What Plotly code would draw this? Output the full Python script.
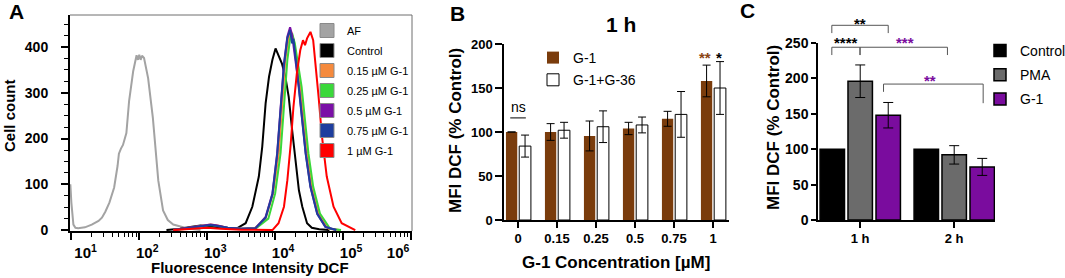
import plotly.graph_objects as go

W, H = 1065, 278
FONT = "Liberation Sans, Arial, Helvetica, sans-serif"
NB = "\u00a0"

# ---------------- Panel A : DCF fluorescence histograms ----------------
# x values are log10(fluorescence intensity), y values are cell counts
af_log   = [0.985, 1.0, 1.03, 1.06, 1.1, 1.2, 1.3, 1.4, 1.45, 1.5, 1.56, 1.63, 1.68, 1.70, 1.73, 1.76,
            1.81, 1.85, 1.91, 1.94, 1.96, 1.98, 2.0, 2.02, 2.04, 2.07, 2.13, 2.2, 2.28, 2.35, 2.42,
            2.5, 2.6, 2.7, 2.8, 2.9]
af_count = [100, 60, 12, 5, 4, 6, 12, 20, 27, 40, 60, 93, 140, 167, 178, 186,
            212, 282, 347, 373, 382, 372, 383, 372, 381, 376, 332, 245, 108, 43, 22,
            12, 8, 4, 2, 0]

ctrl_log   = [2.4, 2.6, 2.75, 2.9, 3.0, 3.15, 3.3, 3.45, 3.566, 3.664, 3.76, 3.81, 3.86, 3.91, 3.96,
              4.006, 4.054, 4.10, 4.15, 4.20, 4.25, 4.30, 4.35, 4.40, 4.47, 4.54, 4.65, 4.8]
ctrl_count = [0, 3, 7, 10, 9, 6, 4, 5, 15, 51, 117, 182, 277, 335, 372,
              397, 382, 364, 335, 291, 219, 146, 87, 51, 15, 5, 2, 0]

g015_log   = [2.5, 2.7, 2.85, 3.0, 3.05, 3.15, 3.3, 3.5, 3.7, 3.86, 3.97, 4.054, 4.10, 4.15, 4.2,
              4.24, 4.28, 4.33, 4.37, 4.42, 4.47, 4.54, 4.64, 4.79, 4.95]
g015_count = [0, 4, 8, 11, 12, 10, 5, 3, 4, 25, 80, 168, 277, 372, 420,
              433, 410, 360, 313, 240, 168, 95, 36, 3, 0]

g025_log   = [2.5, 2.7, 2.85, 3.0, 3.05, 3.15, 3.3, 3.5, 3.72, 3.9, 4.0, 4.08, 4.13, 4.18, 4.22,
              4.25, 4.29, 4.34, 4.39, 4.44, 4.49, 4.56, 4.66, 4.81, 4.97]
g025_count = [0, 3, 7, 10, 11, 9, 5, 3, 4, 25, 80, 168, 277, 372, 418,
              430, 408, 358, 313, 240, 168, 95, 36, 3, 0]

g05_log   = [2.5, 2.7, 2.85, 3.0, 3.05, 3.15, 3.3, 3.5, 3.71, 3.86, 3.96, 4.03, 4.08, 4.13, 4.18,
             4.22, 4.25, 4.30, 4.35, 4.40, 4.45, 4.52, 4.62, 4.74, 4.9]
g05_count = [0, 4, 8, 11, 12, 10, 5, 3, 4, 29, 80, 168, 277, 364, 423,
             443, 426, 372, 313, 240, 168, 95, 36, 7, 0]

g075_log   = [2.5, 2.7, 2.85, 3.0, 3.05, 3.15, 3.3, 3.5, 3.71, 3.86, 3.96, 4.03, 4.08, 4.13, 4.18,
              4.22, 4.25, 4.27, 4.31, 4.35, 4.40, 4.45, 4.52, 4.62, 4.74, 4.9]
g075_count = [0, 4, 8, 10, 11, 9, 5, 3, 4, 27, 78, 165, 272, 360, 420,
              437, 408, 418, 365, 310, 238, 166, 94, 35, 7, 0]

g1_log   = [2.5, 2.75, 3.0, 3.2, 3.5, 3.96, 4.05, 4.13, 4.18, 4.23, 4.27, 4.32, 4.37, 4.41, 4.44,
            4.47, 4.52, 4.56, 4.59, 4.64, 4.69, 4.76, 4.86, 4.98, 5.18]
g1_count = [0, 3, 5, 3, 1, 0, 15, 51, 109, 189, 270, 343, 393, 415, 404,
            419, 433, 415, 372, 291, 204, 117, 51, 15, 0]

a_names  = ["AF", "Control", "0.15 µM G-1", "0.25 µM G-1", "0.5 µM G-1", "0.75 µM G-1", "1 µM G-1"]
a_colors = ["#A3A3A3", "#000000", "#F58A3D", "#3AD83A", "#7A10A6", "#1E3E9E", "#FF0000"]
a_xticks = [10, 100, 1000, 10000, 100000, 1000000]
a_xticktext = [NB * 3 + "10<sup>1</sup>", "10<sup>2</sup>", "10<sup>3</sup>", "10<sup>4</sup>",
               "10<sup>5</sup>", "10<sup>6</sup>" + NB * 10]
a_yticks = [0, 100, 200, 300, 400]

# ---------------- Panel B : MFI at 1 h vs G-1 concentration ----------------
b_conc = ["0", "0.15", "0.25", "0.5", "0.75", "1"]
b_g1 = [100, 100, 95.5, 104, 115, 158]
b_g1_err = [None, 9.5, 17, 7, 8.5, 18]
b_g1g36 = [84, 102, 106, 108, 120, 150]
b_g1g36_err = [12.5, 9, 18, 9, 26, 30]
b_yticks = [0, 50, 100, 150, 200]

# ---------------- Panel C : MFI Control / PMA / G-1 at 1 h and 2 h ----------------
c_time = ["1 h", "2 h"]
c_control = [100, 100]
c_pma = [196, 92]
c_pma_err = [23, 13]
c_g1 = [148, 75]
c_g1_err = [18, 12]
c_yticks = [0, 50, 100, 150, 200, 250]

BROWN = "#7A3C0C"
PURPLE = "#7A0C9E"
PMA_GREY = "#6B6B6B"


def fx(px):
    return px / W


def fy(py):
    return 1 - py / H


C_Y_DOMAIN = [fy(220), fy(43)]
C_Y_RANGE = [0, 250]


def c_paper_y(v):
    # map a panel-C data value to paper coordinates (so marks above the axis top are not clipped)
    d0, d1 = C_Y_DOMAIN
    r0, r1 = C_Y_RANGE
    return d0 + (v - r0) / (r1 - r0) * (d1 - d0)


fig = go.Figure()

# ---- Panel A traces
a_logs = [af_log, ctrl_log, g015_log, g025_log, g05_log, g075_log, g1_log]
a_counts = [af_count, ctrl_count, g015_count, g025_count, g05_count, g075_count, g1_count]
for name, lx, cnt, col in zip(a_names, a_logs, a_counts, a_colors):
    fig.add_trace(go.Scatter(
        x=[10 ** v for v in lx], y=cnt, mode="lines", name=name,
        line=dict(color=col, width=2), showlegend=False, xaxis="x", yaxis="y"))
for i, (name, col) in enumerate(zip(a_names, a_colors)):
    fig.add_trace(go.Scatter(
        x=[None], y=[None], mode="markers", name=name, legend="legend",
        legendgroup="a%d" % i,
        marker=dict(symbol="square", size=14, color=col, line=dict(color="#8a8a8a", width=1)),
        xaxis="x", yaxis="y"))

# ---- Panel B traces
fig.add_trace(go.Bar(
    x=b_conc, y=b_g1, name="G-1", legend="legend2", legendgroup="b1",
    marker=dict(color=BROWN, line=dict(color=BROWN, width=0)),
    offset=-0.31, width=0.29,
    error_y=dict(type="data", array=b_g1_err, visible=True, color="black", thickness=1, width=4),
    xaxis="x2", yaxis="y2"))
fig.add_trace(go.Bar(
    x=b_conc, y=b_g1g36, name="G-1+G-36", legend="legend2", legendgroup="b2",
    marker=dict(color="white", line=dict(color="black", width=1)),
    offset=0.03, width=0.30,
    error_y=dict(type="data", array=b_g1g36_err, visible=True, color="black", thickness=1, width=4),
    xaxis="x2", yaxis="y2"))

# ---- Panel C traces
fig.add_trace(go.Bar(
    x=c_time, y=c_control, name="Control", legend="legend3", legendgroup="c1",
    marker=dict(color="black", line=dict(color="black", width=1.5)),
    offset=-0.425, width=0.26, xaxis="x3", yaxis="y3"))
fig.add_trace(go.Bar(
    x=c_time, y=c_pma, name="PMA", legend="legend3", legendgroup="c2",
    marker=dict(color=PMA_GREY, line=dict(color="black", width=1.5)),
    offset=-0.128, width=0.26,
    error_y=dict(type="data", array=c_pma_err, visible=True, color="black", thickness=1, width=5),
    xaxis="x3", yaxis="y3"))
fig.add_trace(go.Bar(
    x=c_time, y=c_g1, name="G-1", legend="legend3", legendgroup="c3",
    marker=dict(color=PURPLE, line=dict(color="black", width=1.5)),
    offset=0.17, width=0.26,
    error_y=dict(type="data", array=c_g1_err, visible=True, color="black", thickness=1, width=5),
    xaxis="x3", yaxis="y3"))

shapes = []
annotations = []

# ---- Panel A frame (top & right borders)
shapes.append(dict(type="line", xref="x domain", yref="y domain", x0=0, x1=1, y0=1, y1=1,
                   line=dict(color="#6e6e6e", width=1)))
shapes.append(dict(type="line", xref="x domain", yref="y domain", x0=1, x1=1, y0=0, y1=1,
                   line=dict(color="#6e6e6e", width=1)))

# ---- Panel B significance marks
shapes.append(dict(type="line", xref="x2", yref="y2", x0=-0.2, x1=0.2, y0=116, y1=116,
                   line=dict(color="black", width=1)))
annotations.append(dict(x=0, y=128, xref="x2", yref="y2", text="ns", showarrow=False,
                        font=dict(size=14, color="black", family=FONT)))
annotations.append(dict(x=4.795, y=189, xref="x2", yref="y2", text="**", showarrow=False, yshift=-3.5,
                        font=dict(size=15, color="#8B4513", family=FONT, weight="bold")))
annotations.append(dict(x=5.15, y=189, xref="x2", yref="y2", text="*", showarrow=False, yshift=-3.5,
                        font=dict(size=15, color="black", family=FONT, weight="bold")))

# ---- Panel C brackets: (x_left, x_right, y_top, y_left_end, y_right_end, label, color, label_x, label_y)
c_brackets = [
    (-0.30, 0.30, 275, 264, 264, "**", "black", 0.0, 282),
    (-0.30, 0.00, 244, 233, 233, "****", "black", -0.15, 255),
    (0.00, 0.93, 244, 233, 233, "***", PURPLE, 0.48, 255),
    (0.25, 1.31, 192, 181, 165, "**", PURPLE, 0.745, 202),
]
for xl, xr, yt, yle, yre, lab, col, lx, ly in c_brackets:
    ln = dict(color="#555555", width=1)
    shapes.append(dict(type="line", xref="x3", yref="paper", x0=xl, x1=xr,
                       y0=c_paper_y(yt), y1=c_paper_y(yt), line=ln))
    shapes.append(dict(type="line", xref="x3", yref="paper", x0=xl, x1=xl,
                       y0=c_paper_y(yle), y1=c_paper_y(yt), line=ln))
    shapes.append(dict(type="line", xref="x3", yref="paper", x0=xr, x1=xr,
                       y0=c_paper_y(yre), y1=c_paper_y(yt), line=ln))
    annotations.append(dict(x=lx, y=c_paper_y(ly), xref="x3", yref="paper", text=lab,
                            showarrow=False, yshift=-3.5, yanchor="middle",
                            font=dict(size=15, color=col, family=FONT, weight="bold")))


# ---- Panel letters, titles and axis titles
def paper_text(px, py, text, size, bold=True, angle=0):
    annotations.append(dict(x=fx(px), y=fy(py), xref="paper", yref="paper", text=text,
                            showarrow=False, textangle=angle, xanchor="center", yanchor="middle",
                            font=dict(size=size, color="black", family=FONT,
                                      weight="bold" if bold else "normal")))


paper_text(16, 12, "A", 21)
paper_text(457, 13, "B", 21)
paper_text(747, 11, "C", 21)
paper_text(621, 24, "1 h", 21)
paper_text(9, 116, "Cell count", 15, angle=-90)
paper_text(250, 267, "Fluorescence Intensity DCF", 15)
paper_text(455, 131, "MFI DCF (% Control)", 17, angle=-90)
paper_text(616, 262, "G-1 Concentration [µM]", 17)
paper_text(773, 128, "MFI DCF (% Control)", 17, angle=-90)

tick_bold = dict(family=FONT, size=14, color="black", weight="bold")

fig.update_layout(
    width=W, height=H, autosize=False,
    margin=dict(l=0, r=0, t=0, b=0, pad=0, autoexpand=False),
    paper_bgcolor="white", plot_bgcolor="white",
    font=dict(family=FONT, color="black"),
    barmode="overlay",
    shapes=shapes, annotations=annotations,
    xaxis=dict(domain=[fx(70), fx(412)], anchor="y", type="log", range=[0.98, 6.015],
               tickvals=a_xticks, ticktext=a_xticktext, ticks="outside", ticklen=7, tickwidth=2,
               tickcolor="black", showline=True, linecolor="black", linewidth=2, showgrid=False,
               zeroline=False, tickfont=dict(family=FONT, size=15, color="black", weight="bold"),
               ticklabelshift=8,
               minor=dict(ticks="outside", ticklen=4, tickwidth=1, tickcolor="black", dtick="D1",
                          showgrid=False)),
    yaxis=dict(domain=[fy(231), fy(15)], anchor="x", range=[-2, 470],
               tickvals=a_yticks, ticks="outside", ticklen=7, tickwidth=2, tickcolor="black",
               showline=True, linecolor="black", linewidth=2, showgrid=False, zeroline=False,
               tickfont=tick_bold, ticklabelstandoff=10,
               minor=dict(ticks="outside", ticklen=4, tickwidth=1, tickcolor="black", dtick=25,
                          showgrid=False)),
    xaxis2=dict(domain=[fx(504), fx(729)], anchor="y2", type="category", range=[-0.36, 5.41],
                ticks="outside", ticklen=6, tickwidth=1.5, tickcolor="black", showline=True,
                linecolor="black", linewidth=1.5, showgrid=False, zeroline=False,
                tickfont=dict(family=FONT, size=13, color="black", weight="bold")),
    yaxis2=dict(domain=[fy(220), fy(44)], anchor="x2", range=[0, 200], tickvals=b_yticks,
                ticks="outside", ticklen=7, tickwidth=1.5, tickcolor="black", showline=True,
                linecolor="black", linewidth=1.5, showgrid=False, zeroline=False,
                tickfont=dict(family=FONT, size=13, color="black", weight="bold")),
    xaxis3=dict(domain=[fx(818), fx(995)], anchor="y3", type="category", range=[-0.447, 1.436],
                ticks="outside", ticklen=6, tickwidth=1.5, tickcolor="black", showline=True,
                linecolor="black", linewidth=1.5, showgrid=False, zeroline=False,
                tickfont=dict(family=FONT, size=13, color="black", weight="bold")),
    yaxis3=dict(domain=C_Y_DOMAIN, anchor="x3", range=C_Y_RANGE, tickvals=c_yticks,
                ticks="outside", ticklen=5, tickwidth=1.5, tickcolor="black", showline=True,
                linecolor="black", linewidth=1.5, showgrid=False, zeroline=False,
                tickfont=dict(family=FONT, size=14, color="black", weight="bold")),
    legend=dict(x=fx(307), y=fy(16), xanchor="left", yanchor="top", bgcolor="rgba(0,0,0,0)",
                font=dict(family=FONT, size=11, color="black"), traceorder="grouped",
                tracegroupgap=1, borderwidth=0),
    legend2=dict(x=fx(533), y=fy(42), xanchor="left", yanchor="top", bgcolor="rgba(0,0,0,0)",
                 font=dict(family=FONT, size=14, color="black"), traceorder="grouped",
                 tracegroupgap=1, borderwidth=0),
    legend3=dict(x=fx(980), y=fy(35), xanchor="left", yanchor="top", bgcolor="rgba(0,0,0,0)",
                 font=dict(family=FONT, size=14, color="black"), traceorder="grouped",
                 tracegroupgap=3, borderwidth=0),
)

fig.write_html("out.html", config={"displayModeBar": False},
               post_script="document.body.style.margin='0';document.body.style.overflow='hidden';")
